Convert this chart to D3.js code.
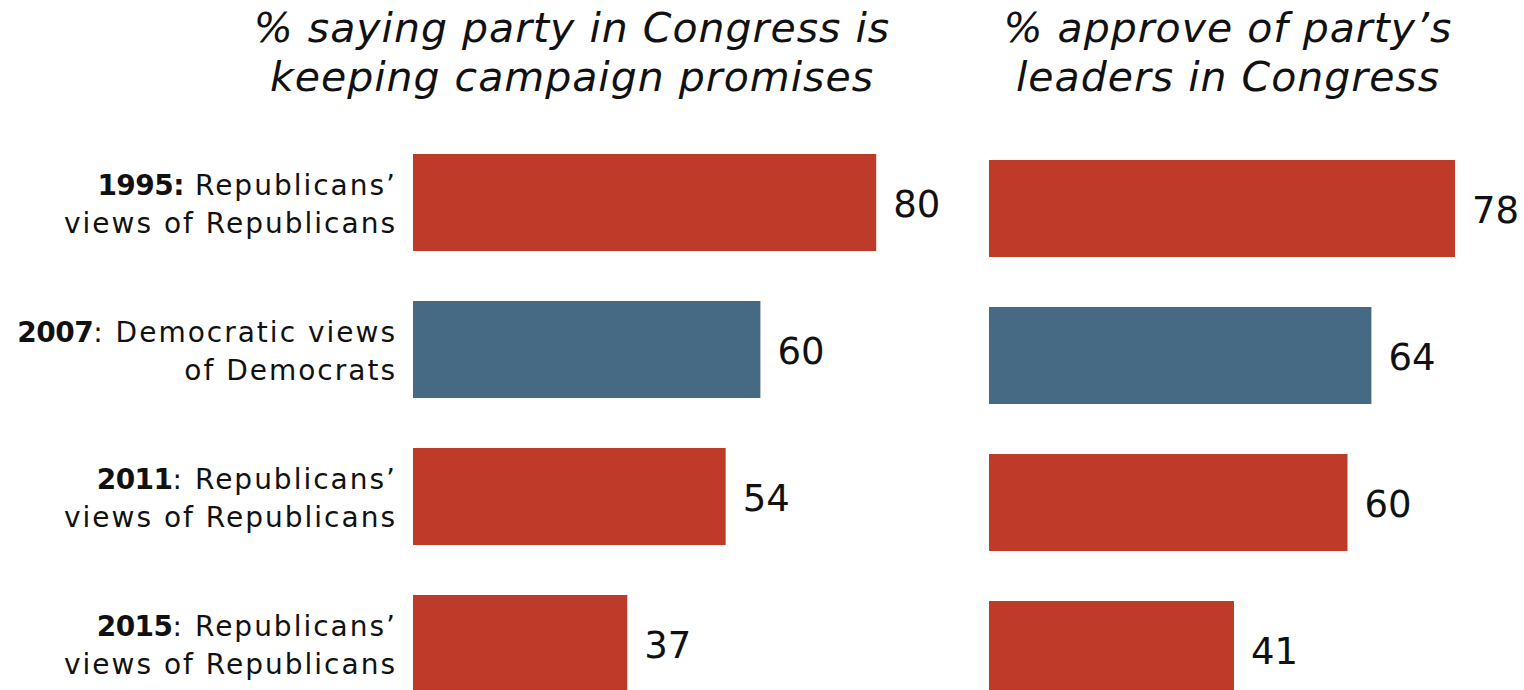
<!DOCTYPE html>
<html><head><meta charset="utf-8">
<script src="https://cdn.jsdelivr.net/npm/d3@7"></script>
<style>body{margin:0;background:#fff}svg{display:block}</style>
</head><body>
<svg id="c" width="1524" height="690"></svg>
<script>
const categories = ["1995","2007","2011","2015"];
const yearBold = ["1995:","2007","2011","2015"];
const labelLine1Rest = [" Republicans\u2019",": Democratic views",": Republicans\u2019",": Republicans\u2019"];
const labelLine2 = ["views of Republicans","of Democrats","views of Republicans","views of Republicans"];
const party = ["R","D","R","R"];
const promises = [80,60,54,37];
const approve = [78,64,60,41];
const titles = [["% saying party in Congress is","keeping campaign promises"],["% approve of party\u2019s","leaders in Congress"]];
const colors = {R:"#be3a29", D:"#466a84"};

const svg = d3.select("#c");
const font = "'DejaVu Sans', Verdana, sans-serif";

const panels = [
  {vals: promises, x0: 413, k: 5.79, y0: 154, title: titles[0], tx: 572},
  {vals: approve, x0: 989, k: 5.975, y0: 160, title: titles[1], tx: 1228}
];

panels.forEach(p => {
  const x = d3.scaleLinear().domain([0,100]).range([p.x0, p.x0 + 100*p.k]);
  const y = d3.scaleBand().domain(categories).range([p.y0, p.y0 + 147*(4-0.34)]).paddingInner(0.34).paddingOuter(0);
  const g = svg.append("g");
  g.selectAll("rect").data(p.vals).join("rect")
    .attr("x", x(0)).attr("y", (d,i)=>y(categories[i]))
    .attr("width", d=>x(d)-x(0)).attr("height", y.bandwidth())
    .attr("fill", (d,i)=>colors[party[i]]);
  g.selectAll("text.v").data(p.vals).join("text").attr("class","v")
    .attr("x", d=>x(d)+17).attr("y", (d,i)=>y(categories[i])+y.bandwidth()/2+14)
    .style("font-family", font).style("font-size","37px").attr("fill","#111")
    .text(d=>d);
  const t = svg.append("text").attr("text-anchor","middle")
    .style("font-family", font).style("font-style","italic").style("font-size","41px")
    .style("letter-spacing","1px").attr("fill","#111");
  t.append("tspan").attr("x", p.tx).attr("y", 42).text(p.title[0]);
  t.append("tspan").attr("x", p.tx).attr("y", 91).text(p.title[1]);
  p.y = y;
});

const yl = panels[0].y;
categories.forEach((c,i) => {
  const cy = yl(c) + yl.bandwidth()/2;
  const t1 = svg.append("text").attr("text-anchor","end").attr("x",397).attr("y",cy-8)
    .style("font-family", font).style("font-size","28px").attr("fill","#111");
  t1.append("tspan").style("font-weight","bold").style("letter-spacing","-0.5px").text(yearBold[i]);
  t1.append("tspan").style("letter-spacing","2px").style("white-space","pre").text(labelLine1Rest[i]);
  svg.append("text").attr("text-anchor","end").attr("x",397).attr("y",cy+30)
    .style("font-family", font).style("font-size","28px").style("letter-spacing","2px").attr("fill","#111").text(labelLine2[i]);
});
</script>
</body></html>
